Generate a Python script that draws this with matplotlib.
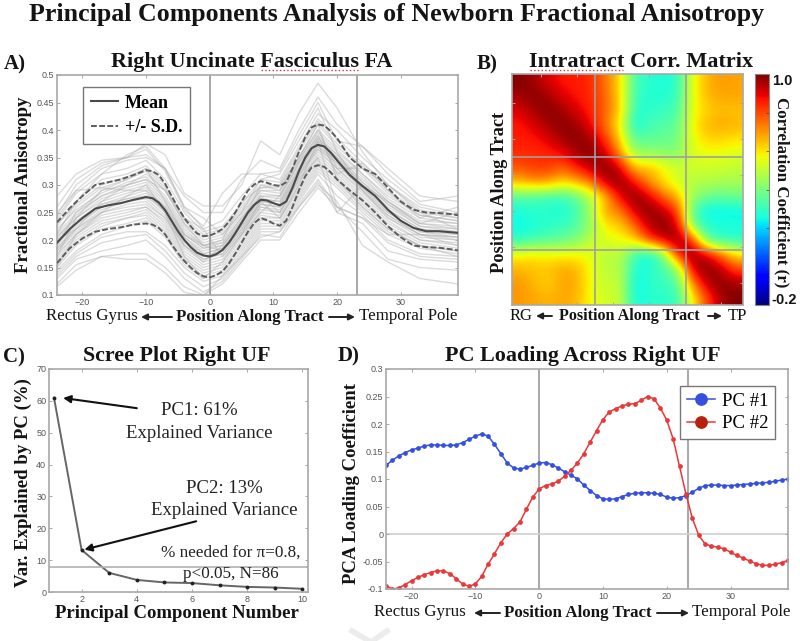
import matplotlib
matplotlib.use('Agg')
import matplotlib.pyplot as plt
import numpy as np

serif = 'Liberation Serif'
sans = 'Liberation Sans'
W, H = 800, 641
axis_gray = '#a8a8a8'
tick_gray = '#555555'

# A) tract profile
x_a = [-24, -22, -20, -18, -16, -14, -12, -10, -9, -8, -7, -6, -5, -4, -3, -2, -1, 0, 1, 2, 3, 4, 5, 6, 7, 8, 9, 10, 11, 12, 13, 14, 15, 16, 17, 18, 19, 20, 22, 24, 26, 28, 30, 32, 34, 36, 38, 39]
mean_a = [.195, .22, .24, .257, .263, .267, .273, .278, .276, .268, .254, .235, .216, .2, .187, .177, .172, .17, .174, .182, .195, .212, .231, .25, .264, .273, .272, .267, .263, .27, .295, .325, .35, .367, .373, .37, .359, .345, .318, .298, .28, .255, .235, .222, .216, .216, .214, .213]
upper_a = [.232, .258, .28, .3, .305, .31, .318, .327, .325, .318, .302, .28, .259, .24, .225, .212, .207, .208, .213, .22, .233, .25, .27, .29, .301, .307, .304, .3, .298, .305, .33, .36, .387, .405, .41, .408, .398, .385, .35, .33, .32, .295, .27, .255, .25, .249, .247, .245]
lower_a = [.158, .185, .203, .215, .22, .223, .228, .23, .228, .222, .21, .192, .176, .162, .15, .14, .134, .132, .136, .143, .157, .175, .195, .215, .231, .24, .236, .23, .226, .235, .26, .29, .316, .332, .336, .333, .323, .31, .29, .272, .25, .225, .205, .19, .187, .186, .183, .181]

# subject curves, read roughly off the grey bundle
x_sub = [-24, -21, -17, -13, -10, -7, -4, -1, 2, 5, 8, 11, 14, 17, 20, 24, 28, 33, 39]
subjects = [
    [.26, .31, .34, .35, .375, .355, .285, .262, .262, .30, .38, .355, .43, .485, .44, .36, .30, .255, .24],
    [.28, .32, .345, .35, .355, .33, .28, .25, .25, .31, .345, .33, .40, .46, .41, .37, .33, .28, .27],
    [.245, .30, .335, .35, .365, .325, .255, .225, .285, .32, .32, .325, .39, .45, .38, .37, .32, .27, .28],
    [.25, .29, .33, .345, .35, .33, .26, .22, .235, .28, .32, .31, .37, .43, .40, .35, .31, .265, .25],
    [.235, .285, .32, .33, .345, .31, .25, .215, .225, .265, .31, .305, .365, .42, .385, .34, .30, .26, .245],
    [.225, .27, .31, .32, .335, .30, .24, .21, .22, .26, .30, .30, .36, .415, .375, .335, .29, .25, .24],
    [.23, .265, .30, .315, .33, .295, .235, .205, .215, .255, .295, .295, .35, .41, .37, .33, .285, .245, .235],
    [.215, .26, .295, .31, .325, .29, .23, .20, .21, .25, .29, .29, .345, .40, .365, .32, .28, .245, .235],
    [.22, .255, .285, .305, .315, .28, .225, .195, .205, .245, .29, .285, .345, .395, .36, .32, .275, .24, .23],
    [.21, .25, .28, .30, .31, .275, .22, .19, .20, .24, .285, .28, .34, .39, .355, .315, .27, .235, .23],
    [.205, .245, .28, .295, .305, .27, .215, .19, .195, .24, .28, .28, .335, .385, .35, .31, .27, .23, .225],
    [.20, .24, .275, .29, .30, .265, .21, .185, .195, .235, .28, .275, .33, .385, .355, .305, .265, .23, .22],
    [.205, .24, .27, .285, .295, .26, .21, .185, .19, .23, .275, .27, .33, .38, .345, .305, .265, .225, .22],
    [.195, .235, .265, .28, .29, .26, .205, .18, .19, .23, .275, .27, .325, .38, .35, .30, .26, .225, .215],
    [.195, .23, .265, .275, .285, .255, .205, .175, .185, .225, .27, .265, .325, .375, .34, .30, .255, .22, .215],
    [.19, .23, .26, .275, .28, .255, .20, .175, .185, .225, .27, .265, .32, .37, .345, .295, .255, .22, .21],
    [.185, .225, .26, .27, .28, .25, .20, .17, .18, .22, .265, .26, .32, .37, .335, .295, .25, .215, .21],
    [.185, .22, .255, .27, .275, .245, .195, .17, .18, .22, .265, .26, .315, .365, .34, .29, .25, .215, .205],
    [.18, .22, .25, .265, .27, .24, .19, .165, .175, .215, .26, .255, .315, .365, .33, .29, .245, .21, .205],
    [.18, .215, .25, .26, .265, .24, .19, .165, .175, .215, .26, .25, .31, .36, .33, .285, .245, .21, .205],
    [.175, .21, .245, .255, .26, .235, .185, .16, .17, .21, .255, .25, .305, .355, .325, .28, .24, .205, .20],
    [.17, .21, .24, .25, .26, .23, .18, .155, .165, .205, .25, .245, .30, .35, .32, .275, .235, .20, .195],
    [.165, .205, .235, .245, .255, .225, .175, .15, .16, .20, .245, .24, .295, .345, .315, .27, .23, .20, .19],
    [.16, .20, .23, .24, .25, .22, .17, .145, .155, .195, .24, .24, .29, .34, .31, .265, .225, .195, .185],
    [.155, .195, .225, .24, .245, .215, .165, .14, .15, .19, .235, .235, .285, .335, .305, .26, .22, .19, .18],
    [.15, .19, .22, .23, .24, .21, .16, .135, .145, .185, .23, .23, .28, .33, .30, .255, .215, .19, .18],
    [.145, .18, .21, .225, .235, .205, .155, .13, .14, .18, .225, .225, .275, .325, .295, .25, .21, .185, .175],
    [.14, .175, .205, .215, .215, .19, .15, .125, .135, .175, .22, .22, .27, .32, .28, .245, .20, .175, .17],
    [.135, .17, .195, .205, .21, .18, .14, .115, .13, .17, .215, .215, .265, .31, .26, .24, .195, .17, .165],
    [.13, .165, .18, .19, .20, .17, .13, .105, .125, .165, .21, .205, .26, .305, .25, .23, .18, .165, .16],
    [.12, .155, .17, .175, .175, .15, .115, .10, .12, .16, .20, .20, .25, .295, .26, .215, .165, .15, .145],
    [.115, .145, .17, .165, .165, .14, .105, .098, .135, .17, .205, .215, .26, .30, .27, .19, .16, .13, .12],
    [.21, .27, .32, .355, .37, .33, .26, .24, .21, .25, .31, .32, .38, .44, .36, .29, .24, .21, .20],
    [.17, .24, .29, .31, .33, .27, .21, .19, .18, .23, .30, .29, .35, .41, .31, .26, .22, .19, .17],
    [.24, .29, .295, .29, .29, .25, .19, .16, .19, .235, .28, .25, .31, .35, .25, .30, .27, .23, .25],
    [.20, .22, .27, .30, .31, .29, .24, .22, .17, .21, .25, .28, .34, .39, .32, .34, .29, .24, .26],
    [.15, .21, .25, .28, .30, .25, .17, .13, .16, .21, .27, .24, .30, .38, .26, .24, .21, .21, .19],
    [.19, .25, .29, .30, .32, .29, .23, .19, .20, .27, .295, .30, .35, .40, .33, .33, .30, .25, .22],
]

# B) correlation matrix
corr = [
    [1.0, .96, .90, .86, .86, .84, .74, .62, .31, .28, .26, .28, .56, .66, .70, .68],
    [.96, 1.0, .96, .90, .86, .84, .76, .62, .30, .27, .27, .30, .56, .66, .68, .68],
    [.90, .96, 1.0, .96, .90, .85, .76, .64, .28, .28, .30, .32, .56, .62, .65, .64],
    [.86, .90, .96, 1.0, .96, .88, .74, .58, .23, .32, .34, .36, .58, .66, .68, .66],
    [.86, .86, .90, .96, 1.0, .96, .82, .62, .34, .36, .36, .38, .56, .62, .62, .60],
    [.84, .84, .85, .88, .96, 1.0, .92, .70, .44, .44, .42, .42, .54, .56, .56, .54],
    [.78, .82, .82, .76, .86, .94, 1.0, .92, .62, .66, .58, .52, .52, .52, .52, .50],
    [.66, .70, .70, .62, .66, .74, .94, 1.0, .88, .70, .60, .52, .48, .48, .46, .46],
    [.34, .32, .30, .30, .36, .48, .64, .90, 1.0, .92, .76, .66, .44, .38, .36, .38],
    [.26, .28, .28, .25, .32, .46, .70, .72, .92, 1.0, .94, .82, .34, .22, .23, .23],
    [.24, .26, .28, .30, .34, .44, .60, .62, .76, .94, 1.0, .92, .38, .28, .27, .26],
    [.28, .32, .34, .36, .40, .50, .54, .56, .62, .82, .92, 1.0, .84, .34, .28, .28],
    [.58, .60, .58, .58, .58, .56, .48, .50, .30, .22, .38, .86, 1.0, .92, .76, .60],
    [.66, .64, .64, .68, .66, .56, .48, .50, .26, .28, .32, .42, .92, 1.0, .94, .80],
    [.70, .66, .62, .68, .68, .56, .50, .52, .22, .28, .30, .34, .72, .94, 1.0, .96],
    [.70, .68, .66, .68, .66, .56, .52, .52, .24, .28, .28, .30, .58, .80, .96, 1.0],
]

# C) scree
pc_num = [1, 2, 3, 4, 5, 6, 7, 8, 9, 10]
var_expl = [61, 13.2, 6, 3.8, 3, 2.8, 2.1, 1.6, 1.4, 1.0]
threshold = 7.8

# D) loadings
x_d = list(range(-24, 40))
pc1 = [.125, .134, .142, .148, .153, .156, .160, .162, .162, .161, .161, .162, .166, .172, .178, .182, .178, .163, .146, .129, .12, .118, .121, .125,
       .129, .130, .126, .120, .113, .107, .10, .089, .079, .07, .064, .063, .064, .068, .072, .074, .075, .075, .074, .072, .067, .065, .066, .070,
       .076, .083, .088, .089, .089, .088, .088, .089, .09, .091, .092, .093, .094, .096, .098, .100]
pc2 = [-.094, -.1, -.098, -.092, -.085, -.079, -.074, -.07, -.067, -.067, -.072, -.081, -.091, -.095, -.091, -.077, -.055, -.036, -.016, 0, .01, .022, .045, .067,
       .082, .088, .091, .096, .105, .116, .129, .146, .167, .188, .208, .222, .228, .233, .236, .237, .243, .25, .246, .229, .207, .173, .123, .073,
       .029, -.002, -.018, -.022, -.024, -.027, -.033, -.039, -.044, -.049, -.054, -.057, -.057, -.055, -.052, -.048]


def make_ax(x0, y0, x1, y1):
    ax = fig.add_axes([x0 / W, 1 - y1 / H, (x1 - x0) / W, (y1 - y0) / H])
    for s in ax.spines.values():
        s.set_color(axis_gray)
        s.set_linewidth(1.2)
    ax.tick_params(direction='in', length=2.5, width=0.7, color=axis_gray, labelsize=6.5,
                   labelcolor=tick_gray, pad=2, top=True, right=True)
    for lab in ax.get_xticklabels() + ax.get_yticklabels():
        lab.set_family(sans)
    return ax


def ftext(x, y, s, size, weight='bold', **kw):
    kw.setdefault('ha', 'center')
    kw.setdefault('va', 'center')
    fig.text(x / W, 1 - y / H, s, family=serif, fontsize=size, weight=weight, color=kw.pop('color', '#141414'), **kw)


def farrow(x0, x1, y, color='#222222'):
    fig.add_artist(matplotlib.patches.FancyArrowPatch((x0 / W, 1 - y / H), (x1 / W, 1 - y / H), transform=fig.transFigure,
                                                      arrowstyle='-|>', mutation_scale=9, lw=1.4, color=color, shrinkA=0, shrinkB=0))


def fline(xs, ys, **kw):
    fig.add_artist(plt.Line2D([x / W for x in xs], [1 - y / H for y in ys], transform=fig.transFigure, **kw))


fig = plt.figure(figsize=(8, 6.41), dpi=100)

ftext(397, 14, 'Principal Components Analysis of Newborn Fractional Anisotropy', 18.6)

# panel A
ax = make_ax(57, 75, 458, 295)
for s in subjects:
    ax.plot(x_sub, s, color='#b0b0b0', lw=1.0, alpha=0.45, zorder=1)
ax.axvline(0, color='#9a9a9a', lw=1.2, zorder=2)
ax.axvline(23.2, color='#9a9a9a', lw=1.2, zorder=2)
ax.plot(x_a, mean_a, color='#4a4a4a', lw=1.5, label='Mean', zorder=3)
ax.plot(x_a, upper_a, color='#5c5c5c', lw=1.4, ls=(0, (3, 1.2)), label='+/- S.D.', zorder=3)
ax.plot(x_a, lower_a, color='#5c5c5c', lw=1.4, ls=(0, (3, 1.2)), zorder=3)
ax.set_xlim(-24, 39)
ax.set_ylim(0.1, 0.5)
ax.set_xticks([-20, -10, 0, 10, 20, 30])
ax.set_yticks([.1, .15, .2, .25, .3, .35, .4, .45, .5])
ax.set_yticklabels(['0.1', '0.15', '0.2', '0.25', '0.3', '0.35', '0.4', '0.45', '0.5'])
leg = ax.legend(loc='upper left', bbox_to_anchor=((83 - 57) / 401, 1 - (87 - 75) / 220), borderaxespad=0, fancybox=False,
                edgecolor='#777777', framealpha=1, prop={'family': serif, 'weight': 'bold', 'size': 13},
                handlelength=1.5, handletextpad=0.4, labelspacing=0.42, borderpad=0.42)
leg.get_frame().set_linewidth(1)
ftext(252, 62, 'Right Uncinate Fasciculus FA', 15.9)
fline([261, 359], [70, 70], color='#dd3333', lw=1, ls=':')
ftext(15, 64, 'A)', 15)
ftext(24, 185, 'Fractional Anisotropy', 13.5, rotation=90)
ftext(92, 316, 'Rectus Gyrus', 12.2, weight='normal')
ftext(250, 317, 'Position Along Tract', 12.2)
ftext(408, 316, 'Temporal Pole', 12.2, weight='normal')
farrow(172, 141, 317)
farrow(329, 355, 317)

# panel B
ax = make_ax(512, 74, 743, 305)
im = ax.imshow(corr, cmap='jet', vmin=-0.2, vmax=1.0, interpolation='bicubic', aspect='auto')
n = len(corr)
ax.axvline(0.36 * n - 0.5, color='#a0a0a0', lw=1.2)
ax.axvline(0.755 * n - 0.5, color='#a0a0a0', lw=1.2)
ax.axhline(0.36 * n - 0.5, color='#a0a0a0', lw=1.2)
ax.axhline(0.76 * n - 0.5, color='#a0a0a0', lw=1.2)
ax.set_xticks(np.arange(1.5, n, 2.5))
ax.set_yticks(np.arange(1.5, n, 2.5))
ax.set_xticklabels([])
ax.set_yticklabels([])
ftext(641, 62, 'Intratract Corr. Matrix', 16)
fline([530, 623], [70, 70], color='#dd3333', lw=1, ls=':')
ftext(487, 64, 'B)', 15)
ftext(500, 192, 'Position Along Tract', 13.2, rotation=90)
ftext(521, 316, 'RG', 12, weight='normal')
ftext(629, 316, 'Position Along Tract', 11.6)
ftext(737, 316, 'TP', 12, weight='normal')
farrow(552, 536, 316)
farrow(708, 722, 316)

cax = fig.add_axes([755 / W, 1 - 305 / H, 14 / W, 231 / H])
cb = fig.colorbar(im, cax=cax)
cb.set_ticks(np.arange(-0.2, 1.01, 0.2))
cb.ax.tick_params(direction='in', length=2, width=0.5, color='#444444', labelright=False)
cb.outline.set_edgecolor('#888888')
fig.text(772 / W, 1 - 81 / H, '1.0', family=sans, weight='bold', fontsize=10.5, va='center', color='#141414')
fig.text(771 / W, 1 - 300 / H, '-0.2', family=sans, weight='bold', fontsize=10.5, va='center', color='#141414')
ftext(782, 192, 'Correlation Coefficient (r)', 12.2, rotation=270)

# panel C
ax = make_ax(49, 369, 308, 592)
ax.plot(pc_num, var_expl, color='#666666', lw=1.4, marker='o', ms=1.8, mfc='#222222', mec='#222222')
ax.axhline(threshold, color='#b0b0b0', lw=1.2)
ax.set_xlim(0.82, 10.2)
ax.set_ylim(0, 70)
ax.set_xticks([2, 4, 6, 8, 10])
ax.set_yticks(range(0, 71, 10))
arrow = dict(arrowstyle='-|>', mutation_scale=11, lw=1.5, color='#111111', shrinkA=0, shrinkB=0)
ax.annotate('', xy=(1.33, 60.9), xytext=(4.0, 57.7), arrowprops=arrow)
ax.annotate('', xy=(2.1, 13.3), xytext=(6.15, 22.2), arrowprops=arrow)
for tx, ty, s in [(6.27, 56.9, 'PC1: 61%'), (6.27, 49.6, 'Explained Variance'),
                  (7.18, 32.4, 'PC2: 13%'), (7.18, 25.6, 'Explained Variance')]:
    ax.text(tx, ty, s, family=serif, fontsize=13.5, ha='center', va='center', color='#222222')
for tx, ty, s in [(7.42, 12.2, '% needed for π=0.8,'), (7.42, 5.8, 'p<0.05, N=86')]:
    ax.text(tx, ty, s, family=serif, fontsize=12.3, ha='center', va='center', color='#222222')
ftext(177, 356, 'Scree Plot Right UF', 15.8)
ftext(14, 357, 'C)', 15)
ftext(23, 483, 'Var. Explained by PC (%)', 13.5, rotation=90)
ftext(177, 614, 'Principal Component Number', 13.5)

# panel D
ax = make_ax(386, 369, 788, 589)
ax.axvline(0, color='#9a9a9a', lw=1.2, zorder=1)
ax.axvline(23.4, color='#9a9a9a', lw=1.2, zorder=1)
ax.axhline(0, color='#cfcfcf', lw=1.2, zorder=1)
ax.plot(x_d, pc1, color='#3550e0', lw=1.1, marker='o', ms=2.4, label='PC #1')
ax.plot(x_d, pc2, color='#e8383a', lw=1.1, marker='o', ms=2.4, label='PC #2')
ax.set_xlim(-24, 39)
ax.set_ylim(-0.1, 0.3)
ax.set_xticks([-20, -10, 0, 10, 20, 30])
ax.set_yticks([-.1, -.05, 0, .05, .1, .15, .2, .25, .3])
ax.set_yticklabels(['-0.1', '-0.05', '0', '0.05', '0.1', '0.15', '0.2', '0.25', '0.3'])
leg = ax.legend(loc='upper left', bbox_to_anchor=((680 - 386) / 402, 1 - (386 - 369) / 220), borderaxespad=0, fancybox=False,
                edgecolor='#777777', framealpha=1, prop={'family': serif, 'size': 13.5}, handlelength=1.5, handletextpad=0.4,
                labelspacing=0.3, borderpad=0.35, markerscale=3.4)
leg.get_lines()[1].set_markerfacecolor('#b82010')
leg.get_lines()[1].set_markeredgecolor('#b82010')
leg.get_frame().set_linewidth(1)
ftext(583, 356, 'PC Loading Across Right UF', 15.9)
ftext(349, 356, 'D)', 15)
ftext(352, 483, 'PCA Loading Coefficient', 13.5, rotation=90)
ftext(420, 612, 'Rectus Gyrus', 12.2, weight='normal')
ftext(578, 613, 'Position Along Tract', 12.2)
ftext(741, 612, 'Temporal Pole', 12.2, weight='normal')
farrow(500, 474, 613)
farrow(657, 689, 613)

# faint watermark at the bottom edge
fline([352, 371, 387], [631, 642, 631], color='#ececec', lw=4)

fig.savefig('out.png', dpi=100)
